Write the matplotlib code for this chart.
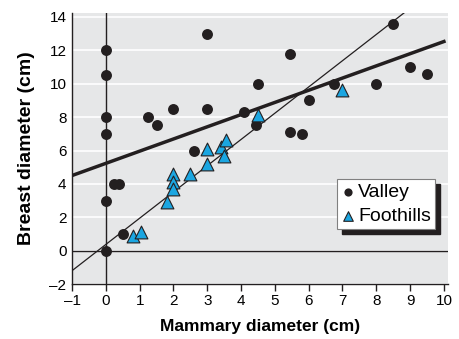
import matplotlib
matplotlib.use("Agg")
import matplotlib.pyplot as plt
import numpy as np
from matplotlib.patches import Rectangle

plt.rcParams['font.family'] = ['Liberation Sans', 'DejaVu Sans']

valley_x = [0, 0, 0, 0, 1.25, 1.5, 2, 3, 3, 2.6, 4.1, 4.45, 4.5, 5.45, 5.45, 5.8, 6, 6.75, 8, 8.5, 9, 9.5, 0.25, 0.4, 0, 0.5, 0]
valley_y = [12, 10.5, 8, 7, 8, 7.5, 8.5, 13, 8.5, 6, 8.3, 7.5, 10, 11.8, 7.1, 7, 9, 10, 10, 13.6, 11, 10.6, 4, 4, 3, 1, 0]
foot_x = [3, 3.4, 3.55, 3.5, 3, 4.5, 7, 2, 2, 2, 2.5, 1.8, 0.8, 1.05]
foot_y = [6.1, 6.2, 6.6, 5.7, 5.2, 8.1, 9.6, 4.6, 4.1, 3.7, 4.6, 2.9, 0.9, 1.1]
valley_fit = (0.73, 5.23)   # slope, intercept
foot_fit = (1.573, 0.37)
xticks = list(range(-1, 11))
yticks = list(range(-2, 15, 2))

fig = plt.figure(figsize=(4.59, 3.39), dpi=100)
ax = fig.add_axes([0.1569, 0.1622, 0.976 - 0.1569, 0.9617 - 0.1622])
ax.set_facecolor('#e6e7e8')
ax.set_xlim(-1, 10.12)
ax.set_ylim(-2, 14.24)

for y in yticks:
    ax.axhline(y, color='white', lw=1.2, zorder=1)
ax.axhline(0, color='#231f20', lw=1.0, zorder=2)
ax.axvline(0, color='#231f20', lw=1.0, zorder=2)

lx = np.array([-1, 10])
ax.plot(lx, valley_fit[0] * lx + valley_fit[1], color='#231f20', lw=2.5, zorder=3)
ax.plot(lx, foot_fit[0] * lx + foot_fit[1], color='#231f20', lw=0.9, zorder=3)

ax.scatter(valley_x, valley_y, s=62, marker='o', color='#231f20', zorder=4, label='Valley', linewidths=0)
ax.scatter(foot_x, foot_y, s=85, marker='^', color='#1ba6e1', edgecolors='#231f20', linewidths=0.8, zorder=5, label='Foothills')

for s in ['top', 'right']:
    ax.spines[s].set_visible(False)
ax.spines['left'].set_color('#231f20')
ax.spines['bottom'].set_color('#231f20')
ax.spines['left'].set_linewidth(1.0)
ax.spines['bottom'].set_linewidth(1.0)

ax.set_xticks(xticks)
ax.set_yticks(yticks)
ax.set_xticklabels([str(t).replace('-', '\u2013') for t in xticks])
ax.set_yticklabels([str(t).replace('-', '\u2013') for t in yticks])
ax.tick_params(axis='x', direction='out', length=5, width=1, color='#231f20', labelsize=11, pad=2)
ax.tick_params(axis='y', length=0, labelsize=11, pad=4)

ax.set_xlabel('Mammary diameter (cm)', fontsize=12.5, fontweight='bold')
ax.set_ylabel('Breast diameter (cm)', fontsize=14, fontweight='bold')
ax.xaxis.set_label_coords(0.5, -0.13)
ax.yaxis.set_label_coords(-0.098, 0.5)

# legend with shadow
leg = ax.legend(loc='upper left', bbox_to_anchor=((336.7 - 72) / 376, 1 - (179.3 - 13) / 271),
                frameon=True, fancybox=False, fontsize=14, handletextpad=0.1,
                handlelength=0.8, borderpad=0.2, labelspacing=0.35, borderaxespad=0,
                markerscale=0.75)
leg.get_frame().set_edgecolor('#808080')
leg.get_frame().set_linewidth(0.8)
leg.get_frame().set_facecolor('white')
leg.get_frame().set_alpha(1)
leg.set_zorder(7)
fig.canvas.draw()
bb = leg.get_window_extent().transformed(ax.transAxes.inverted())
off_x = 5 / 376
off_y = 5 / 271
ax.add_patch(Rectangle((bb.x0 + off_x, bb.y0 - off_y), bb.width, bb.height,
                       transform=ax.transAxes, color='#231f20', zorder=6, clip_on=False))

fig.savefig('out.png', dpi=100)
